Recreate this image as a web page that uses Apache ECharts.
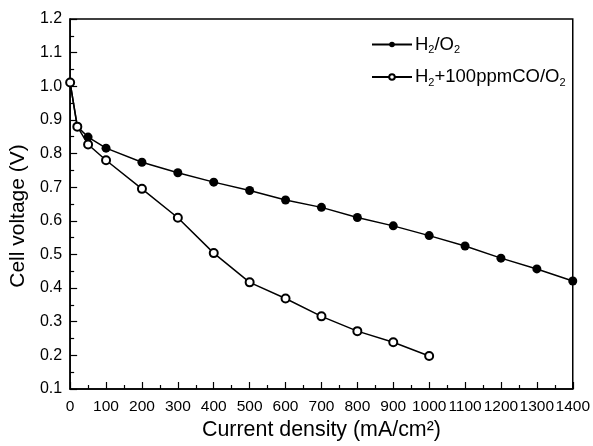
<!DOCTYPE html>
<html><head><meta charset="utf-8">
<script src="https://cdn.jsdelivr.net/npm/echarts@6/dist/echarts.min.js"></script>
<style>html,body{margin:0;padding:0;background:#fff}#c{width:593px;height:446px}</style>
</head><body><div id="c"></div>
<script>
const h2o2X = [0, 20, 50, 100, 200, 300, 400, 500, 600, 700, 800, 900, 1000, 1100, 1200, 1300, 1400];
const h2o2Y = [1.01, 0.88, 0.849, 0.816, 0.774, 0.743, 0.715, 0.690, 0.662, 0.640, 0.610, 0.585, 0.556, 0.525, 0.489, 0.457, 0.421];
const coX = [0, 20, 50, 100, 200, 300, 400, 500, 600, 700, 800, 900, 1000];
const coY = [1.011, 0.880, 0.827, 0.780, 0.695, 0.609, 0.504, 0.417, 0.369, 0.316, 0.272, 0.239, 0.198];
const seriesNames = ['H{s|2}/O{s|2}', 'H{s|2}+100ppmCO/O{s|2}'];
const legendKeys = ['H2O2', 'H2CO'];

const font = 'Liberation Sans, Arial, Helvetica, sans-serif';
const chart = echarts.init(document.getElementById('c'), null, {renderer: 'canvas'});
const filledData = h2o2X.map((x, i) => i < 2 ? {value: [x, h2o2Y[i]], symbolSize: 0} : [x, h2o2Y[i]]);
const openData = coX.map((x, i) => [x, coY[i]]);
chart.setOption({
  animation: false,
  backgroundColor: '#fff',
  grid: {left: 68, right: 20, top: 19, bottom: 55, show: true, borderColor: '#000', borderWidth: 1.5},
  legend: {
    left: 366, top: 30, orient: 'vertical', itemGap: 12, itemWidth: 40, itemHeight: 7,
    data: legendKeys,
    formatter: function (n) { return seriesNames[legendKeys.indexOf(n)]; },
    textStyle: {fontFamily: font, fontSize: 18.5, color: '#000', padding: [0, 0, 0, -2],
      rich: {s: {fontSize: 11, verticalAlign: 'bottom', padding: [11, 0, 0, 0], fontFamily: font}}}
  },
  xAxis: {
    type: 'value', min: 0, max: 1400, interval: 100,
    name: 'Current density (mA/cm²)', nameLocation: 'middle', nameGap: 31,
    nameTextStyle: {fontFamily: font, fontSize: 21.4, color: '#000'},
    axisLine: {lineStyle: {color: '#000', width: 1.5}},
    axisTick: {inside: true, length: 7, lineStyle: {color: '#000', width: 1.2}},
    minorTick: {show: true, splitNumber: 2, length: 4, lineStyle: {color: '#000', width: 1.2}},
    splitLine: {show: false},
    axisLabel: {fontFamily: font, fontSize: 15.5, color: '#000', margin: 10, hideOverlap: false,
      showMaxLabel: true, showMinLabel: true, formatter: v => String(v)}
  },
  yAxis: {
    type: 'value', min: 0.1, max: 1.2, interval: 0.1,
    name: 'Cell voltage (V)', nameLocation: 'middle', nameGap: 40,
    nameTextStyle: {fontFamily: font, fontSize: 21, color: '#000', padding: [0, 24, 0, 0]},
    axisLine: {lineStyle: {color: '#000', width: 1.5}},
    axisTick: {inside: true, length: 7, lineStyle: {color: '#000', width: 1.2}},
    minorTick: {show: true, splitNumber: 2, length: 4, lineStyle: {color: '#000', width: 1.2}},
    splitLine: {show: false},
    axisLabel: {fontFamily: font, fontSize: 16, color: '#000', margin: 8,
      formatter: v => v.toFixed(1)}
  },
  series: [
    {name: 'H2O2', type: 'line', data: filledData, symbol: 'circle', symbolSize: 9,
      lineStyle: {color: '#000', width: 1.5}, itemStyle: {color: '#000', borderColor: '#000', borderWidth: 0}},
    {name: 'H2CO', type: 'line', data: openData, symbol: 'circle', symbolSize: 8,
      lineStyle: {color: '#000', width: 1.5}, itemStyle: {color: '#fff', borderColor: '#000', borderWidth: 2}, z: 3}
  ]
});
</script></body></html>
